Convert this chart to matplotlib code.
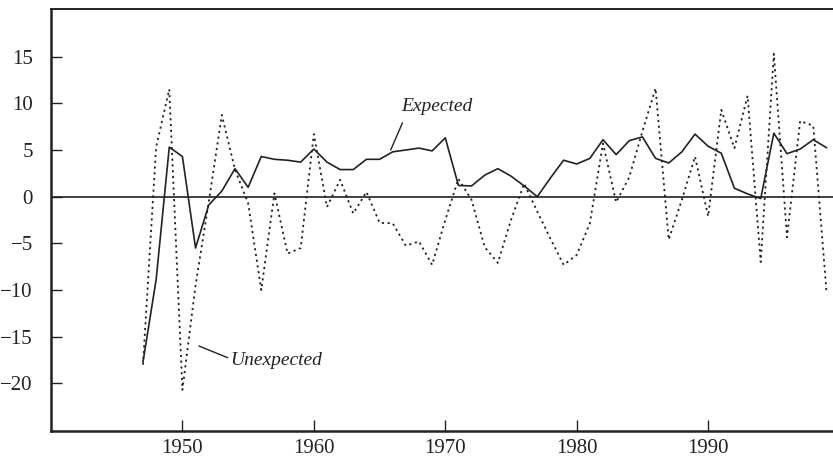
import matplotlib
matplotlib.use("Agg")
import matplotlib.pyplot as plt

# =================================================================
# DATA (percent)
# =================================================================
years = list(range(1947, 2000))

expected = [-17.7, -8.9, 5.3, 4.3, -5.5, -0.9, 0.6, 3.0, 1.0, 4.3,
            4.0, 3.9, 3.7, 5.1, 3.7, 2.9, 2.9, 4.0, 4.0, 4.8,
            5.0, 5.2, 4.9, 6.3, 1.2, 1.15, 2.3, 3.0, 2.2, 1.15,
            0.0, 2.0, 3.9, 3.5, 4.1, 6.1, 4.5, 6.0, 6.4, 4.1,
            3.6, 4.8, 6.7, 5.4, 4.65, 0.9, 0.3, -0.2, 6.8, 4.6,
            5.1, 6.1, 5.25]

unexpected = [-18.0, 5.3, 11.5, -20.7, -9.5, -0.6, 8.75, 2.9, -0.7, -10.0,
              0.35, -6.1, -5.5, 6.7, -1.1, 1.8, -1.8, 0.5, -2.8, -2.85,
              -5.25, -4.8, -7.3, -2.5, 1.9, -0.35, -5.4, -7.1, -2.5, 1.4,
              -1.6, -4.5, -7.3, -6.25, -2.85, 5.7, -0.6, 2.1, 7.0, 11.6,
              -4.6, -0.35, 4.3, -2.1, 9.3, 5.2, 10.8, -7.0, 15.3, -4.35,
              8.1, 7.6, -10.1]

yticks = [-20, -15, -10, -5, 0, 5, 10, 15]
xticks = [1950, 1960, 1970, 1980, 1990]

# =================================================================
# PLOT
# =================================================================
SERIF = ["Liberation Serif", "DejaVu Serif"]
INK = "#222222"

fig = plt.figure(figsize=(8.33, 4.59), dpi=100)
ax = fig.add_axes([0.0612, 0.061, 0.9388, 0.9194])

ax.axhline(0, color="#333333", linewidth=1.3, zorder=1)
ax.plot(years, expected, color=INK, linewidth=1.2, zorder=3)
ax.plot(years, unexpected, color=INK, linewidth=1.3,
        linestyle=(0, (1.2, 2.0)), zorder=2)

ax.set_xlim(1940, 1999.5)
ax.set_ylim(-25.1, 20.1)
ax.set_xticks(xticks)
ax.set_yticks(yticks)
ax.set_yticklabels([str(v).replace("-", "\u2212") for v in yticks])

ax.tick_params(direction="in", length=8, width=1.0, color=INK)
ax.tick_params(axis="y", pad=13)
ax.tick_params(axis="x", pad=6)
for lab in ax.get_xticklabels() + ax.get_yticklabels():
    lab.set_fontfamily(SERIF)
    lab.set_fontsize(15)
    lab.set_color(INK)

for side in ["left", "bottom", "top"]:
    ax.spines[side].set_linewidth(1.8)
    ax.spines[side].set_color(INK)
ax.spines["top"].set_linewidth(1.4)
ax.spines["right"].set_visible(False)

# --- series labels with leader lines ---
ax.annotate("", xy=(1965.85, 5.0), xytext=(1966.74, 7.9),
            arrowprops=dict(arrowstyle="-", color=INK, linewidth=1.0,
                            shrinkA=0, shrinkB=0))
ax.text(1966.65, 9.7, "Expected", family=SERIF, style="italic",
        fontsize=14, color=INK, va="center", ha="left")

ax.annotate("", xy=(1951.26, -16.0), xytext=(1953.45, -17.25),
            arrowprops=dict(arrowstyle="-", color=INK, linewidth=1.0,
                            shrinkA=0, shrinkB=0))
ax.text(1953.65, -17.5, "Unexpected", family=SERIF, style="italic",
        fontsize=14, color=INK, va="center", ha="left")

fig.savefig("out.png", dpi=100)
